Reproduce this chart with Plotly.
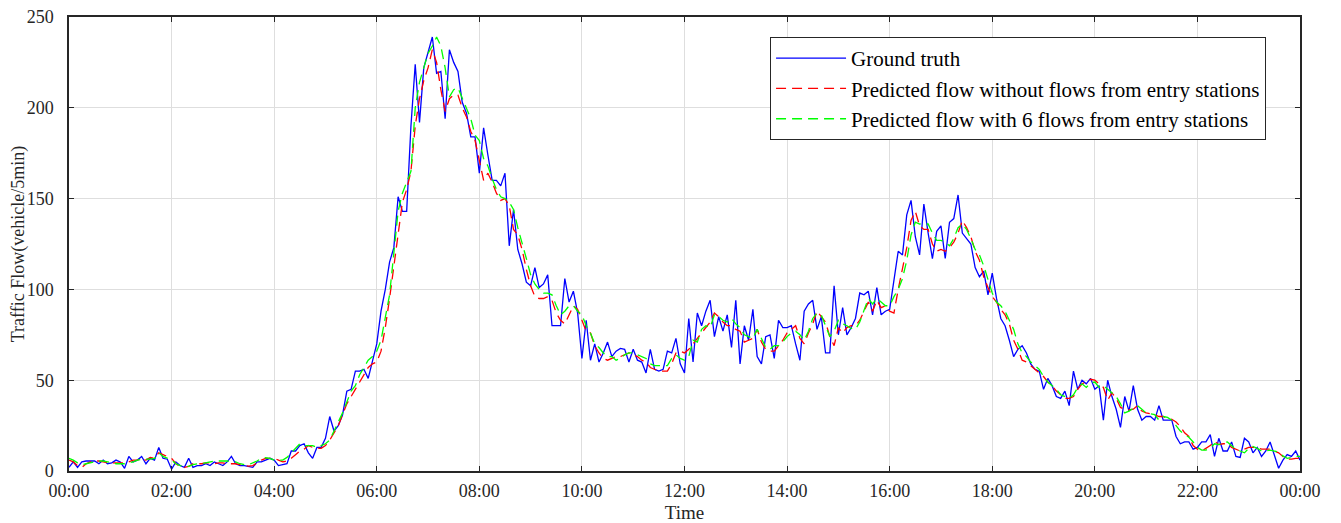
import plotly.graph_objects as go

# ---- data (5-minute samples, 00:00 .. 24:00) ----
ground_truth = [
    2, 5, 2, 5, 5.5, 5.5, 5.5, 4, 6, 4, 4.5, 6,
    5, 1.5, 8, 5, 6, 8, 4, 7, 6, 13, 7, 6.5,
    1, 5, 3, 2, 7, 2, 3, 3, 4, 3, 5, 4,
    3, 5, 8, 4, 3, 3, 2.5, 2, 5, 5, 6, 7,
    6, 3, 3.5, 4, 11, 11, 14, 15, 10, 7, 13, 13,
    18, 30, 22, 25, 31, 44, 45, 55, 55, 56, 51, 60,
    70, 88, 100, 115, 123, 151, 143, 143, 190, 224, 192, 222,
    230, 239, 219, 220, 194, 232, 225, 220, 203, 197, 184, 184,
    164, 189, 174, 160, 160, 157, 164, 124, 144, 122, 114, 104,
    102, 112, 101, 103, 108, 80, 80, 80, 106, 93, 99, 87,
    62, 83, 61, 70, 60, 65, 71, 63, 66, 67.5, 67, 60,
    67, 61, 60, 54, 67, 56, 55, 56, 66, 65, 73, 59,
    54, 84, 60, 87, 80, 88, 94, 74, 85, 77, 86, 68,
    94, 59, 80, 72, 89, 63, 59, 74, 75, 62, 83, 79,
    79, 80, 70, 61, 88, 92, 94, 78, 85, 65, 65, 102,
    75, 90, 75, 79, 84, 98, 97, 99, 86, 101, 86, 88,
    89, 105, 121, 119, 141, 149, 129, 119, 147, 131, 117, 132,
    135, 117, 137, 139, 152, 131, 128, 125, 112, 107, 110, 97,
    109, 95, 84, 80, 72, 63, 67, 69, 65, 59, 56, 55,
    45, 51, 47, 41, 40, 44, 36, 55, 45, 50, 48, 51,
    45, 47, 28, 50, 41, 34, 24, 41, 33, 47, 34, 28,
    30, 30, 28, 36, 28, 28, 28, 19, 15, 16, 16, 12,
    13, 16, 16, 20, 8, 18, 11, 11, 16, 8, 7.5, 18,
    16, 10, 13, 8, 11, 16, 9, 1.5, 6, 9, 8, 11,
    6,
]

pred_without = [
    6, 5, 3, 2, 4, 5, 5.5, 5.5, 5, 4.5, 4.5, 4.5,
    4.5, 4.5, 5, 6, 6, 6.4, 6, 7.5, 7, 10, 9, 8,
    7, 4, 2.5, 2, 2.5, 4, 4, 4, 4.5, 4.5, 4, 4.5,
    4.5, 4, 4, 4, 3.5, 3, 2.7, 3, 4.5, 6, 7, 7,
    7, 6, 5, 5.5, 7, 9, 11, 12, 14, 13, 12.5, 12.5,
    14, 17, 21, 25, 31, 37, 41, 45, 49, 53, 57, 59,
    60, 66, 79, 95, 113, 132, 148, 155, 165, 190, 205, 215,
    222, 232, 225, 210, 198, 205, 207, 207, 200, 195, 187, 182,
    170, 160, 164, 159, 153, 149, 150, 146, 133, 130, 122, 111,
    102, 96, 95, 95, 96, 94, 87, 83, 81, 86, 91, 89,
    83, 77, 76, 69, 65, 62, 61, 62, 63, 63, 64, 65,
    64, 63, 61, 60, 57, 56, 55, 55, 55, 59, 65, 66,
    65, 67, 70, 73, 76, 79, 82, 87, 85, 82, 80, 80,
    78, 77, 71, 72, 73, 78, 71, 67, 66, 66, 69, 72,
    76, 78, 80, 73, 70, 76, 81, 88, 85, 82, 74, 69,
    79, 76, 79, 80, 80, 83, 88, 93, 88, 94, 90, 91,
    88, 87, 100, 112, 123, 138, 143, 135, 133, 133, 125, 121,
    122, 121, 123, 126, 131, 138, 134, 129, 121, 116, 107, 101,
    96, 93, 89, 86, 81, 72, 67, 61, 60, 58, 56, 54,
    52, 49, 47, 44, 42, 40, 40, 41, 45, 48, 49, 50.5,
    50, 48, 46, 39, 43, 40, 35, 34, 33.6, 34, 36, 33,
    32, 31.5, 31, 30, 30, 29, 28.5, 27, 24.5, 21, 19, 14,
    12, 11, 12.5, 14, 16.5, 14.5, 15, 15, 13, 12, 11, 12,
    13, 13, 13, 12, 12, 12, 11, 10, 8, 6.5, 6.5, 7,
    7,
]

pred_with6 = [
    7, 6, 4.5, 3.5, 4, 4.5, 5, 5.5, 5.5, 5, 4.5, 4,
    4, 4, 4.5, 5, 6, 6.5, 6.5, 6.5, 7, 10, 8, 7,
    6, 4, 3, 2.5, 2.5, 3.5, 4, 4, 4.5, 5, 5.5, 5.5,
    5.5, 5.5, 5, 5, 4, 3.5, 3.5, 4.5, 5.5, 7, 7.3, 7,
    6, 6, 6, 7.5, 10, 12, 15, 14, 14, 14, 13, 14,
    15, 17, 22, 27, 32, 38, 44, 47, 53, 57, 61, 63,
    66, 72, 85, 97, 120, 143, 153, 159, 165, 200, 214, 222,
    230, 234, 239, 234, 222, 206, 210, 211, 205, 199, 194, 185,
    182, 172, 168, 161, 155, 151, 150, 148, 144, 134, 126, 117,
    108, 103, 100, 98, 98, 97, 91, 86, 88, 91, 91, 88,
    86, 80, 76, 70, 68, 65, 63, 63, 61, 62, 64, 65,
    65, 64, 63, 62, 59, 58, 58, 58, 58, 62, 64, 62,
    61, 63, 72, 71, 78, 80, 79, 86, 85, 83, 82, 84,
    81, 79, 75, 74, 73, 78, 73, 68, 67, 69, 69, 71,
    74, 76, 77, 75, 72, 77, 84, 87, 86, 80, 74, 77,
    83, 81, 80, 78.5, 78, 82, 88, 95, 92, 95, 93, 91,
    91, 96, 100, 106, 116, 130, 137, 136, 136, 136, 131, 127,
    127, 126, 124, 128, 134, 136, 133, 128, 122, 119, 113, 106,
    98, 93, 91, 88, 83, 78, 70, 65, 63, 60, 58, 56,
    52, 49, 47, 45, 42, 41, 40, 42, 46, 48, 46, 48.5,
    49, 46, 47, 45, 43, 41, 37, 32, 33, 34.5, 36, 34,
    32, 31.5, 31, 28, 30, 29.5, 28, 25, 22, 20, 18.6, 16,
    13, 11.5, 11.5, 12.5, 15, 14.5, 15.5, 16, 14, 12, 11, 10,
    12.5, 13.5, 12.5, 11, 11, 11.5, 11, 10.5, 8.3, 7, 7.5, 8,
    8,
]

minutes = [5 * i for i in range(len(ground_truth))]  # minutes since midnight
tick_minutes = [0, 120, 240, 360, 480, 600, 720, 840, 960, 1080, 1200, 1320, 1440]
tick_labels = ["00:00", "02:00", "04:00", "06:00", "08:00", "10:00", "12:00",
               "14:00", "16:00", "18:00", "20:00", "22:00", "00:00"]
y_ticks = [0, 50, 100, 150, 200, 250]

FONT = "Liberation Serif, Times New Roman, serif"
DARK = "#262626"

fig = go.Figure()
fig.add_trace(go.Scatter(x=minutes, y=ground_truth, mode="lines", name="Ground truth",
                         line=dict(color="rgb(0,0,255)", width=1.3)))
fig.add_trace(go.Scatter(x=minutes, y=pred_without, mode="lines",
                         name="Predicted flow without flows from entry stations",
                         line=dict(color="rgb(255,0,0)", width=1.3, dash="10px,6px")))
fig.add_trace(go.Scatter(x=minutes, y=pred_with6, mode="lines",
                         name="Predicted flow with 6 flows from entry stations",
                         line=dict(color="rgb(0,255,0)", width=1.3, dash="10px,6px")))

axis_common = dict(showline=True, linecolor=DARK, linewidth=1.5, mirror="ticks",
                   ticks="inside", ticklen=5, tickcolor=DARK, tickwidth=1,
                   showgrid=True, gridcolor="#dedede", gridwidth=1, zeroline=False,
                   automargin=False, ticklabeloverflow="allow",
                   tickfont=dict(family=FONT, size=18, color=DARK))

# page body adds an 8px offset, so the figure is 8px smaller than the window
fig.update_layout(
    template="none",
    width=1333, height=515,
    margin=dict(l=61, r=41, t=9, b=52),
    paper_bgcolor="white", plot_bgcolor="white",
    font=dict(family=FONT, size=18, color=DARK),
    xaxis=dict(range=[0, 1440], tickvals=tick_minutes, ticktext=tick_labels,
               ticklabelstandoff=3,
               title=dict(text="Time", font=dict(family=FONT, size=19), standoff=6),
               **axis_common),
    yaxis=dict(range=[0, 250], tickvals=y_ticks, ticklabelstandoff=10,
               title=dict(text="Traffic Flow(vehicle/5min)", font=dict(family=FONT, size=18), standoff=3),
               **axis_common),
    legend=dict(x=0.5695, y=0.956, xanchor="left", yanchor="top",
                bgcolor="white", bordercolor=DARK, borderwidth=1,
                font=dict(family=FONT, size=21, color="black"),
                itemwidth=70, tracegroupgap=0),
    showlegend=True,
)

fig.write_html("out.html")
